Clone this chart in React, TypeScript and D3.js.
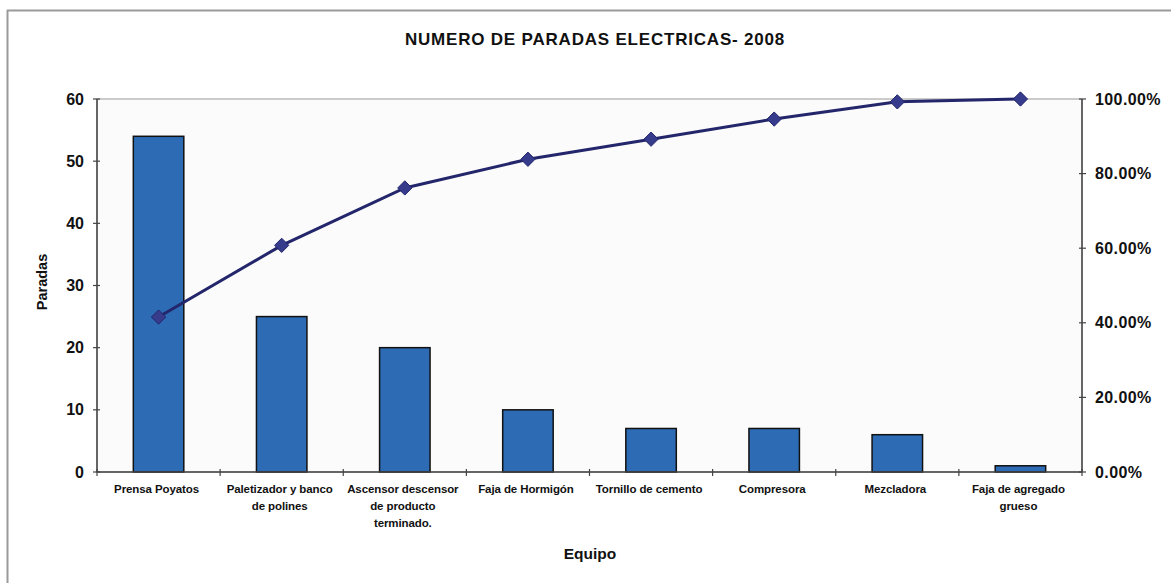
import React from "react";
import * as d3 from "d3";

const categories: string[][] = [
  ["Prensa Poyatos"],
  ["Paletizador y banco", "de polines"],
  ["Ascensor descensor", "de producto", "terminado."],
  ["Faja de Hormigón"],
  ["Tornillo de cemento"],
  ["Compresora"],
  ["Mezcladora"],
  ["Faja de agregado", "grueso"],
];
const paradas: number[] = [54, 25, 20, 10, 7, 7, 6, 1];
const leftTicks: number[] = [0, 10, 20, 30, 40, 50, 60];
const rightTicks: number[] = [0, 0.2, 0.4, 0.6, 0.8, 1.0];

const W = 1171;
const H = 583;
const left = 97;
const right = 1082;
const top = 99;
const bottom = 472;

export default function App() {
  const total = d3.sum(paradas);
  const cumulative: number[] = Array.from(d3.cumsum(paradas)).map((v) => v / total);
  const idx = paradas.map((_, i) => String(i));

  const x = d3.scaleBand<string>().domain(idx).range([left, right]).paddingInner(0.59).paddingOuter(0.295);
  const xb = d3.scaleBand<string>().domain(idx).range([left, right]);
  const y = d3.scaleLinear().domain([0, 60]).range([bottom, top]);
  const y2 = d3.scaleLinear().domain([0, 1]).range([bottom, top]);
  const fmt = d3.format(".2%");

  const pts: [number, number][] = cumulative.map((c, i) => [
    (xb(String(i)) as number) + xb.bandwidth() / 2,
    y2(c),
  ]);
  const line = d3.line()(pts) || "";
  const diamond = d3.symbol().type(d3.symbolDiamond2 || d3.symbolDiamond).size(130)() || "";

  const font = "Arial, 'Liberation Sans', Helvetica, sans-serif";
  const boundaries = idx.map((_, i) => left + xb.bandwidth() * i).concat([right]);

  return (
    <svg
      width={W}
      height={H}
      style={{ position: "absolute", left: 0, top: 0, background: "#fff" }}
      fontFamily={font}
    >
      <line x1={7.5} y1={10} x2={7.5} y2={H} stroke="#9a9a9a" strokeWidth={2} />
      <line x1={7} y1={10.5} x2={W} y2={10.5} stroke="#9a9a9a" strokeWidth={2} />

      <text x={595} y={45} textAnchor="middle" fontSize={17} fontWeight="bold" letterSpacing={0.8} fill="#111">
        NUMERO DE PARADAS ELECTRICAS- 2008
      </text>

      <rect x={left} y={top} width={right - left} height={bottom - top} fill="#fbfbfb" stroke="#9a9a9a" strokeWidth={1} />

      {paradas.map((v, i) => (
        <rect
          key={i}
          x={x(String(i))}
          y={y(v)}
          width={x.bandwidth()}
          height={bottom - y(v)}
          fill="#2d6cb5"
          stroke="#111"
          strokeWidth={1.5}
        />
      ))}

      <path d={line} fill="none" stroke="#23266b" strokeWidth={3} />
      {pts.map((p, i) => (
        <path key={i} d={diamond} transform={`translate(${p[0]},${p[1]})`} fill="#363b8c" stroke="#23266b" strokeWidth={1} />
      ))}

      <line x1={left} y1={top} x2={left} y2={bottom} stroke="#444" strokeWidth={1.5} />
      <line x1={right} y1={top} x2={right} y2={bottom} stroke="#444" strokeWidth={1.5} />
      <line x1={left} y1={bottom} x2={right} y2={bottom} stroke="#444" strokeWidth={1.5} />

      {leftTicks.map((t) => (
        <g key={t}>
          <line x1={left - 4} x2={left + 3} y1={y(t)} y2={y(t)} stroke="#444" strokeWidth={1.2} />
          <text x={84} y={y(t) + 5.5} textAnchor="end" fontSize={16} fontWeight="bold" fill="#111">
            {t}
          </text>
        </g>
      ))}
      {rightTicks.map((t) => (
        <g key={t}>
          <line x1={right - 3} x2={right + 4} y1={y2(t)} y2={y2(t)} stroke="#444" strokeWidth={1.2} />
          <text x={1095} y={y2(t) + 5.5} textAnchor="start" fontSize={16} fontWeight="bold" letterSpacing={0.4} fill="#111">
            {fmt(t)}
          </text>
        </g>
      ))}
      {boundaries.map((b, i) => (
        <line key={i} x1={b} x2={b} y1={bottom - 3} y2={bottom + 4} stroke="#444" strokeWidth={1.2} />
      ))}

      {categories.map((lines, i) => {
        const cx = (xb(String(i)) as number) + xb.bandwidth() / 2 - 2;
        return (
          <text key={i} x={cx} y={493} textAnchor="middle" fontSize={11.5} fontWeight="bold" letterSpacing={-0.1} fill="#111">
            {lines.map((l, j) => (
              <tspan key={j} x={cx} dy={j === 0 ? 0 : 17}>
                {l}
              </tspan>
            ))}
          </text>
        );
      })}

      <text transform="translate(47,282) rotate(-90)" textAnchor="middle" fontSize={14.5} fontWeight="bold" fill="#111">
        Paradas
      </text>
      <text x={590} y={559} textAnchor="middle" fontSize={15.5} fontWeight="bold" fill="#111">
        Equipo
      </text>
    </svg>
  );
}
